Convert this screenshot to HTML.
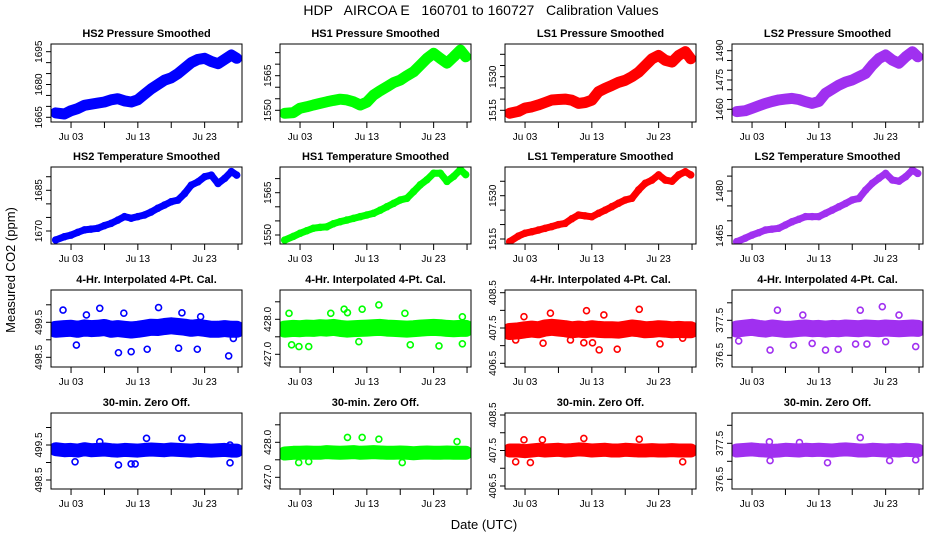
<!DOCTYPE html>
<html><head><meta charset="utf-8"><style>
html,body{margin:0;padding:0;background:#fff}
svg{display:block;font-family:"Liberation Sans",Arial,sans-serif}
</style></head><body>
<svg id="chart" width="936" height="540" viewBox="0 0 936 540">
<text x="481" y="15" font-size="14" text-anchor="middle" style="white-space:pre">HDP   AIRCOA E   160701 to 160727   Calibration Values</text>
<text transform="translate(15,270) rotate(-90)" font-size="13" text-anchor="middle">Measured CO2 (ppm)</text>
<text x="484" y="529" font-size="13" text-anchor="middle">Date (UTC)</text>
<g id="panels"></g>
</svg>
<script>
// ---- data ----
const days = [0.7,2,3,4,5,6,7,8,9,10,11,12,13,14,15,16,17,18,19,20,21,22,23,24,25,26,27,27.8];
const xTickDays = [3,8,13,18,23,28];
const xTickLabels = ["Ju 03","","Ju 13","","Ju 23",""];

const hs2Pressure = [1667,1666.5,1668,1669,1670.5,1671,1671.5,1672,1673,1673.5,1672.5,1672,1673,1675.5,1678,1680,1682,1683,1685,1687.5,1690,1691.5,1692,1690.5,1689.5,1691.5,1693.5,1692];
const hs1Pressure = [1548.7,1549,1550.9,1551.5,1552.3,1553,1553.7,1554.3,1554.8,1554.5,1553.7,1552.3,1553.5,1556.6,1558.5,1560.2,1562,1563.1,1565,1566.7,1569.6,1572.5,1574.7,1572.5,1570.4,1573.2,1576.1,1573.2];
const ls1Pressure = [1513.7,1514.5,1516,1516.5,1517.4,1518.5,1519.6,1519.8,1520,1519.5,1518.1,1518.5,1519.5,1523.3,1524.8,1526.1,1527.5,1528.4,1530,1532,1535,1538,1539.5,1537.3,1536.5,1539.5,1541.2,1538];
const ls2Pressure = [1458.8,1459.3,1460.5,1461.8,1463,1464,1464.8,1465.2,1465.6,1465,1463.9,1463,1464,1468.2,1470.3,1472.4,1474,1475,1476.7,1478.4,1482.6,1486,1487.8,1485.2,1483.6,1486.9,1489.5,1486.9];

const hs2Temp = [1666.7,1667.9,1668.5,1669.5,1670.4,1670.7,1671,1672,1672.8,1674,1675.3,1674.7,1675.3,1675.9,1677,1678.4,1679.6,1680.8,1681.4,1683.8,1686.9,1688.1,1690,1690.6,1687.5,1689.4,1691.9,1690.6];
const hs1Temp = [1548.2,1549.5,1550.6,1551.5,1552.4,1552.7,1552.9,1554,1554.7,1555.3,1555.9,1556.5,1557.1,1557.7,1558.8,1560,1561.2,1562.4,1563,1565.4,1567.8,1569.6,1571.9,1571.9,1569,1570.8,1573.2,1571.4];
const ls1Temp = [1514.1,1516,1517,1517.5,1518.1,1518.7,1519.3,1520,1520.4,1522,1523.3,1523,1522.7,1523.9,1525,1526.2,1527.4,1528.5,1529.1,1532,1534.3,1535.4,1537.2,1535.4,1535,1537.2,1538.3,1537.2];
const ls2Temp = [1463,1464.2,1465.2,1466,1466.9,1467.2,1467.5,1468.6,1469.7,1470.5,1471.4,1471.4,1471.4,1472.5,1473.6,1474.7,1475.8,1477,1477.5,1480.3,1482.6,1484.3,1485.9,1483.7,1483.3,1484.8,1487,1485.9];

const hs2Cal = [499.3,499.32,499.33,499.3,499.34,499.32,499.33,499.35,499.3,499.32,499.3,499.28,499.3,499.33,499.36,499.35,499.38,499.4,499.38,499.36,499.33,499.35,499.33,499.3,499.3,499.32,499.3,499.3];
const hs1Cal = [427.72,427.74,427.73,427.75,427.74,427.76,427.75,427.77,427.74,427.72,427.73,427.74,427.75,427.76,427.77,427.75,427.74,427.73,427.72,427.73,427.75,427.76,427.77,427.76,427.74,427.73,427.74,427.74];
const ls1Cal = [407.4,407.42,407.45,407.47,407.45,407.5,407.52,407.5,407.48,407.45,407.47,407.45,407.48,407.46,407.45,407.45,407.44,407.47,407.5,407.48,407.45,407.46,407.48,407.47,407.45,407.46,407.45,407.45];
const ls2Cal = [377.25,377.28,377.3,377.27,377.25,377.28,377.26,377.24,377.25,377.27,377.28,377.26,377.27,377.25,377.27,377.26,377.28,377.27,377.26,377.28,377.27,377.26,377.28,377.27,377.26,377.27,377.28,377.27];

const hs2Zero = [499.38,499.35,499.36,499.34,499.38,499.35,499.36,499.37,499.35,499.34,499.36,499.35,499.34,499.36,499.37,499.36,499.35,499.37,499.36,499.35,499.34,499.36,499.35,499.34,499.35,499.36,499.34,499.34];
const hs1Zero = [427.68,427.7,427.7,427.71,427.7,427.7,427.72,427.71,427.7,427.71,427.72,427.7,427.71,427.72,427.71,427.7,427.7,427.71,427.7,427.69,427.7,427.71,427.7,427.7,427.71,427.7,427.7,427.7];
const ls1Zero = [407.5,407.5,407.48,407.5,407.52,407.5,407.51,407.52,407.5,407.51,407.53,407.52,407.5,407.51,407.52,407.5,407.5,407.52,407.51,407.5,407.5,407.51,407.5,407.5,407.51,407.5,407.5,407.5];
const ls2Zero = [377.3,377.32,377.33,377.31,377.3,377.29,377.3,377.32,377.31,377.3,377.32,377.31,377.32,377.31,377.3,377.32,377.33,377.32,377.3,377.3,377.32,377.31,377.3,377.31,377.3,377.32,377.31,377.3];

const hs2CalOutDays = [1.8,3.8,7.3,10.1,12.0,14.4,16.1,19.1,19.6,21.9,26.6,27.3,5.3,10.9,22.4];
const hs2CalOutVals = [499.85,498.85,499.9,498.63,498.66,498.73,499.92,498.76,499.77,498.73,498.54,499.04,499.71,499.76,499.66];
const hs1CalOutDays = [1.35,1.74,2.84,4.3,7.6,9.6,10.1,12.3,11.8,14.8,18.7,19.5,23.8,27.3,27.3];
const hs1CalOutVals = [428.17,427.27,427.22,427.22,428.17,428.29,428.19,428.29,427.36,428.41,428.17,427.27,427.24,428.07,427.3];
const ls1CalOutDays = [2.84,5.7,9.8,11.8,12.2,13.1,14.1,16.8,20.1,23.2,26.6,6.8,14.8,1.6];
const ls1CalOutVals = [407.82,407.07,407.16,407.08,407.99,407.08,406.88,406.9,408.03,407.05,407.21,407.92,407.87,407.16];
const ls2CalOutDays = [1.0,5.7,6.8,9.2,12.0,14.0,15.9,18.5,20.2,22.5,23.0,27.5,25.0,10.6,19.2];
const ls2CalOutVals = [376.91,376.65,377.79,376.79,376.84,376.65,376.67,376.82,376.82,377.89,376.89,376.75,377.65,377.65,377.79];

const hs2ZeroOutDays = [10.1,12.0,12.6,3.6,26.8,7.3,14.3,19.6,26.8];
const hs2ZeroOutVals = [498.93,498.96,498.96,499.02,498.99,499.59,499.69,499.69,499.5];
const hs1ZeroOutDays = [10.1,12.3,14.8,18.3,2.8,4.3,26.5];
const hs1ZeroOutVals = [428.14,428.14,428.09,427.42,427.42,427.45,428.02];
const ls1ZeroOutDays = [2.84,20.1,11.8,3.8,26.6,1.6,5.6];
const ls1ZeroOutVals = [407.8,407.82,407.84,407.16,407.18,407.18,407.8];
const ls2ZeroOutDays = [19.2,5.7,14.3,23.6,27.5,10.1,5.6];
const ls2ZeroOutVals = [377.66,377.02,376.96,377.02,377.04,377.52,377.54];

// ---- layout ----
const colLeft = [51,280,505,732];
const colColor = ["#0000ff","#00ff00","#ff0000","#a030f0"];
const rowBox = [[44,122],[167,244],[290,367],[413,489]];
const BOXW = 191, PXDAY = 6.68;
const panels = [
 {r:0,c:0,t:"HS2 Pressure Smoothed",s:hs2Pressure,w:11,ref:[1665,117.3,1695,51.7],ticks:[1665,1670,1675,1680,1685,1690,1695],labs:[1665,1680,1695],dec:0},
 {r:0,c:1,t:"HS1 Pressure Smoothed",s:hs1Pressure,w:11,ref:[1550,110.3,1565,75.7],ticks:[1550,1555,1560,1565,1570,1575],labs:[1550,1565],dec:0},
 {r:0,c:2,t:"LS1 Pressure Smoothed",s:ls1Pressure,w:11,ref:[1515,110.3,1530,76.7],ticks:[1515,1520,1525,1530,1535,1540],labs:[1515,1530],dec:0},
 {r:0,c:3,t:"LS2 Pressure Smoothed",s:ls2Pressure,w:11,ref:[1460,109.3,1490,50.7],ticks:[1460,1465,1470,1475,1480,1485,1490],labs:[1460,1475,1490],dec:0},
 {r:1,c:0,t:"HS2 Temperature Smoothed",s:hs2Temp,w:7,ref:[1670,231,1685,190.3],ticks:[1670,1675,1680,1685,1690],labs:[1670,1685],dec:0},
 {r:1,c:1,t:"HS1 Temperature Smoothed",s:hs1Temp,w:7,ref:[1550,235,1565,192.7],ticks:[1550,1555,1560,1565,1570],labs:[1550,1565],dec:0},
 {r:1,c:2,t:"LS1 Temperature Smoothed",s:ls1Temp,w:7,ref:[1515,239,1530,195.7],ticks:[1515,1520,1525,1530,1535],labs:[1515,1530],dec:0},
 {r:1,c:3,t:"LS2 Temperature Smoothed",s:ls2Temp,w:7,ref:[1465,235.7,1480,191],ticks:[1465,1470,1475,1480,1485],labs:[1465,1480],dec:0},
 {r:2,c:0,t:"4-Hr. Interpolated 4-Pt. Cal.",s:hs2Cal,w:17,od:hs2CalOutDays,ov:hs2CalOutVals,ref:[498.5,357.3,499.5,322.3],ticks:[498.5,499,499.5,500],labs:[498.5,499.5],dec:1},
 {r:2,c:1,t:"4-Hr. Interpolated 4-Pt. Cal.",s:hs1Cal,w:17,od:hs1CalOutDays,ov:hs1CalOutVals,ref:[427,354.3,428,319.3],ticks:[427,427.5,428,428.5],labs:[427,428],dec:1},
 {r:2,c:2,t:"4-Hr. Interpolated 4-Pt. Cal.",s:ls1Cal,w:17,od:ls1CalOutDays,ov:ls1CalOutVals,ref:[406.5,363.3,408.5,292.7],ticks:[406.5,407,407.5,408,408.5],labs:[406.5,407.5,408.5],dec:1},
 {r:2,c:3,t:"4-Hr. Interpolated 4-Pt. Cal.",s:ls2Cal,w:17,od:ls2CalOutDays,ov:ls2CalOutVals,ref:[376.5,355.3,377.5,320.3],ticks:[376.5,377,377.5,378],labs:[376.5,377.5],dec:1},
 {r:3,c:0,t:"30-min. Zero Off.",s:hs2Zero,w:14,od:hs2ZeroOutDays,ov:hs2ZeroOutVals,ref:[498.5,480,499.5,445],ticks:[498.5,499,499.5,500],labs:[498.5,499.5],dec:1},
 {r:3,c:1,t:"30-min. Zero Off.",s:hs1Zero,w:14,od:hs1ZeroOutDays,ov:hs1ZeroOutVals,ref:[427,477.3,428,442.3],ticks:[427,427.5,428,428.5],labs:[427,428],dec:1},
 {r:3,c:2,t:"30-min. Zero Off.",s:ls1Zero,w:14,od:ls1ZeroOutDays,ov:ls1ZeroOutVals,ref:[406.5,486,408.5,415],ticks:[406.5,407,407.5,408,408.5],labs:[406.5,407.5,408.5],dec:1},
 {r:3,c:3,t:"30-min. Zero Off.",s:ls2Zero,w:14,od:ls2ZeroOutDays,ov:ls2ZeroOutVals,ref:[376.5,479.3,377.5,443.3],ticks:[376.5,377,377.5,378],labs:[376.5,377.5],dec:1}
];

const NS = "http://www.w3.org/2000/svg";
const root = document.getElementById("panels");
function mk(tag, attrs, parent){ const e=document.createElementNS(NS,tag); for(const k in attrs) e.setAttribute(k,attrs[k]); parent.appendChild(e); return e; }

panels.forEach((p,i)=>{
  const L = colLeft[p.c], T = rowBox[p.r][0], B = rowBox[p.r][1];
  const col = colColor[p.c];
  const xs = d => L + d*PXDAY;
  const ys = v => p.ref[1] + (v - p.ref[0])*(p.ref[3]-p.ref[1])/(p.ref[2]-p.ref[0]);
  const g = mk("g",{},root);
  
  
  const clip = mk("clipPath",{id:"cp"+i},g);
  mk("rect",{x:L,y:T,width:BOXW,height:B-T},clip);
  const title = mk("text",{x:L+BOXW/2,y:T-7,"font-size":"11","font-weight":"bold","text-anchor":"middle"},g);
  title.textContent = p.t;
  
  
  const plot = mk("g",{"clip-path":"url(#cp"+i+")"},g);
  const pts = p.s.map((v,j)=>xs(days[j]).toFixed(1)+","+ys(v).toFixed(1)).join(" ");
  const band = mk("polyline",{points:pts,fill:"none",stroke:col,"stroke-width":p.w,"stroke-linejoin":"round","stroke-linecap":"round"},plot);
  
  
  p.s.forEach((v,j)=>{
    const c = mk("circle",{cx:xs(days[j]),cy:ys(v),r:3,fill:"none",stroke:col,"stroke-width":1.5},plot);
    
    
  });
  if (p.od) p.od.forEach((d,j)=>{
    const c = mk("circle",{cx:xs(d),cy:ys(p.ov[j]),r:3,fill:"none",stroke:col,"stroke-width":1.6},plot);
    
    
  });
  const box = mk("rect",{x:L,y:T,width:BOXW,height:B-T,fill:"none",stroke:"#000","stroke-width":1},g);
  
  
  xTickDays.forEach((d,j)=>{
    const x = xs(d);
    mk("line",{x1:x,y1:B,x2:x,y2:B+6,stroke:"#000","stroke-width":1},g);
    if (xTickLabels[j]) {
      const t = mk("text",{x:x,y:B+18,"font-size":"10","text-anchor":"middle"},g);
      t.textContent = xTickLabels[j];
      
      
    }
  });
  p.ticks.forEach(v=>{
    const y = ys(v);
    if (y < T-1 || y > B+1) return;
    mk("line",{x1:L-5,y1:y,x2:L,y2:y,stroke:"#000","stroke-width":1},g);
  });
  p.labs.forEach(v=>{
    const y = ys(v);
    const t = mk("text",{transform:"translate("+(L-9)+","+y.toFixed(1)+") rotate(-90)","font-size":"10","text-anchor":"middle"},g);
    t.textContent = v.toFixed(p.dec);
    
    
  });
});
</script>
</body></html>
